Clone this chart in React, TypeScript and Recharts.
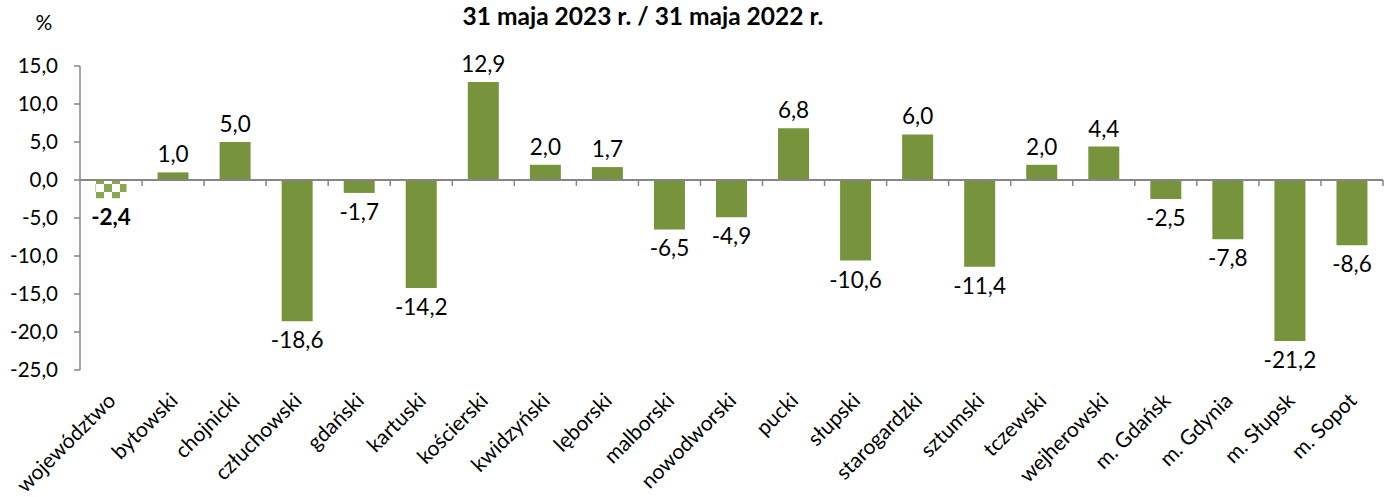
import React from "react";
import { BarChart, Bar, XAxis, YAxis, Cell, LabelList, ReferenceLine } from "recharts";

const categories = [
  "województwo", "bytowski", "chojnicki", "człuchowski", "gdański", "kartuski",
  "kościerski", "kwidzyński", "lęborski", "malborski", "nowodworski", "pucki",
  "słupski", "starogardzki", "sztumski", "tczewski", "wejherowski", "m. Gdańsk",
  "m. Gdynia", "m. Słupsk", "m. Sopot",
];
const values = [
  -2.4, 1.0, 5.0, -18.6, -1.7, -14.2, 12.9, 2.0, 1.7, -6.5, -4.9, 6.8, -10.6,
  6.0, -11.4, 2.0, 4.4, -2.5, -7.8, -21.2, -8.6,
];
const yTicks = [15, 10, 5, 0, -5, -10, -15, -20, -25];
const title = "31 maja 2023 r. / 31 maja 2022 r.";
const unit = "%";

const data = categories.map((name, i) => ({ name, value: values[i] }));

const GREEN = "#77933C";
const AXIS = "#868686";
const FONT = "Lato, 'Noto Sans', sans-serif";

const fmt = (v: number) => v.toFixed(1).replace(".", ",");

const CatTick = (props: any) => {
  const { x, y, payload } = props;
  return (
    <g transform={`translate(${x + 6},${y + 30})`}>
      <text
        transform="rotate(-45)"
        textAnchor="end"
        fontFamily={FONT}
        fontSize={21}
        fill="#000"
      >
        {payload.value}
      </text>
    </g>
  );
};

const ValueLabel = (props: any) => {
  const { x, y, width, height, value, index } = props;
  const top = Math.min(y, y + height);
  const bottom = Math.max(y, y + height);
  const cx = x + width / 2;
  const ty = value >= 0 ? top - 10 : bottom + 27;
  return (
    <text
      x={cx}
      y={ty}
      textAnchor="middle"
      fontFamily={FONT}
      fontSize={22.5}
      fontWeight={index === 0 ? 700 : 400}
      fill="#000"
    >
      {fmt(value)}
    </text>
  );
};

const ZeroAxis = (props: any) => {
  const { x1, y1, x2 } = props;
  const n = categories.length;
  const step = (x2 - x1) / n;
  const ticks = [];
  for (let i = 1; i <= n; i++) {
    const tx = x1 + step * i;
    ticks.push(<line key={i} x1={tx} x2={tx} y1={y1} y2={y1 + 6} stroke={AXIS} strokeWidth={1.5} />);
  }
  return (
    <g>
      <line x1={x1} x2={x2} y1={y1} y2={y1} stroke={AXIS} strokeWidth={2} />
      {ticks}
    </g>
  );
};

export default function App() {
  return (
    <div style={{ position: "absolute", left: 0, top: 0, width: 1392, height: 497, background: "#fff" }}>
      <BarChart
        width={1392}
        height={497}
        data={data}
        margin={{ top: 66, right: 9, bottom: 0, left: 0 }}
        barCategoryGap="25%"
      >
        <defs>
          <pattern id="checker" patternUnits="userSpaceOnUse" width="16" height="16">
            <rect x="0" y="0" width="16" height="16" fill="#ffffff" />
            <rect x="0" y="0" width="8" height="8" fill="#8aa74f" />
            <rect x="8" y="8" width="8" height="8" fill="#8aa74f" />
          </pattern>
        </defs>
        <XAxis
          dataKey="name"
          interval={0}
          height={127}
          axisLine={false}
          tickLine={false}
          tickSize={0}
          tick={<CatTick />}
        />
        <YAxis
          width={80}
          domain={[-25, 15]}
          ticks={yTicks}
          interval={0}
          tickFormatter={fmt}
          axisLine={{ stroke: AXIS, strokeWidth: 1.5 }}
          tickLine={{ stroke: AXIS, strokeWidth: 1.5 }}
          tickSize={6}
          tickMargin={16}
          tick={{ fontFamily: FONT, fontSize: 20.5, fill: "#000" }}
        />
        <Bar dataKey="value" fill={GREEN} isAnimationActive={false}>
          {data.map((d, i) => (
            <Cell key={i} fill={i === 0 ? "url(#checker)" : GREEN} />
          ))}
          <LabelList dataKey="value" content={<ValueLabel />} />
        </Bar>
        <ReferenceLine y={0} shape={<ZeroAxis />} isFront />
      </BarChart>
      <svg
        width={1392}
        height={497}
        style={{ position: "absolute", left: 0, top: 0, pointerEvents: "none" }}
      >
        <text x={643} y={25} textAnchor="middle" fontFamily={FONT} fontSize={24.5} fontWeight={700} fill="#000">
          {title}
        </text>
        <text x={44} y={30} textAnchor="middle" fontFamily={FONT} fontSize={21} fill="#000">
          {unit}
        </text>
      </svg>
    </div>
  );
}
